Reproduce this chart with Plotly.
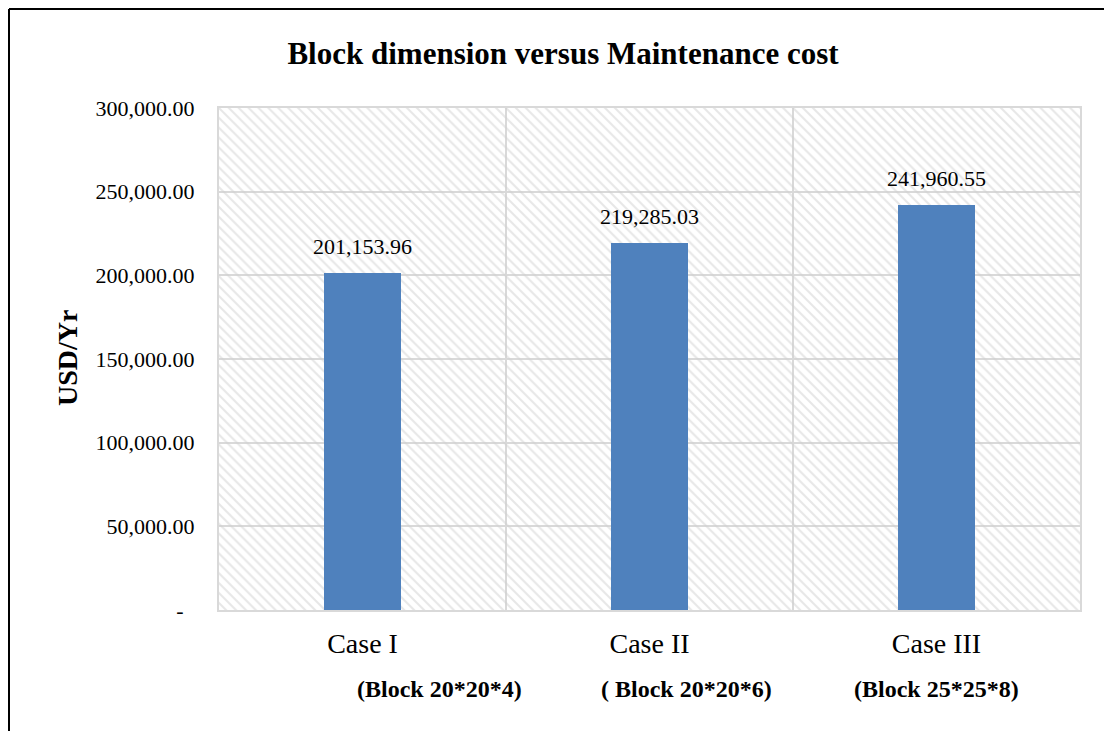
import plotly.graph_objects as go

categories = ["Case I", "Case II", "Case III"]
costs = [201153.96, 219285.03, 241960.55]
sub_labels = ["(Block 20*20*4)", "( Block 20*20*6)", "(Block 25*25*8)"]
sub_offsets = [0.27, 0.13, 0.0]
y_ticks = [0, 50000, 100000, 150000, 200000, 250000, 300000]
y_ticktext = ["-\u00a0\u00a0" if v == 0 else f"{v:,.2f}" for v in y_ticks]
y_max = 300000

SERIF = "Liberation Serif, Times New Roman, serif"
W, H = 1104, 731
L, R, T, B = 219, 24, 108, 121
pw, ph = W - L - R, H - T - B

fig = go.Figure()

# hatched background of the plot area
fig.add_trace(go.Bar(
    x=[categories[1]], y=[y_max], width=[len(categories)],
    marker=dict(color="rgba(0,0,0,0)", line=dict(width=0),
                pattern=dict(shape="\\", size=7, solidity=0.3,
                             fgcolor="#d0d0d0", bgcolor="rgba(0,0,0,0)",
                             fillmode="overlay")),
    hoverinfo="skip", showlegend=False))

fig.add_trace(go.Bar(
    x=categories, y=costs, width=0.27,
    marker=dict(color="#4F81BD", line=dict(width=0)),
    showlegend=False))

for c, v in zip(categories, costs):
    fig.add_annotation(x=c, y=v, text=f"{v:,.2f}", showarrow=False,
                       yanchor="bottom", yshift=12,
                       font=dict(family=SERIF, size=22, color="black"))

for i, (s, off) in enumerate(zip(sub_labels, sub_offsets)):
    fig.add_annotation(x=i + off, y=(T + ph - 689) / ph, xref="x", yref="paper",
                       text=f"<b>{s}</b>", showarrow=False, yanchor="middle",
                       xanchor="center",
                       font=dict(family=SERIF, size=24, color="black"))

fig.add_annotation(x=(67 - L) / pw, y=(T + ph - 358) / ph, xref="paper", yref="paper",
                   text="<b>USD/Yr</b>", textangle=-90, showarrow=False,
                   xanchor="center", yanchor="middle",
                   font=dict(family=SERIF, size=28, color="black"))

# outer frame (top and left edges)
fx0 = (9 - L) / pw
fy0 = (T + ph - 9) / ph
fig.add_shape(type="line", xref="paper", yref="paper", x0=fx0, x1=(W + 5 - L) / pw,
              y0=fy0, y1=fy0, line=dict(color="black", width=2))
fig.add_shape(type="line", xref="paper", yref="paper", x0=fx0, x1=fx0,
              y0=fy0, y1=(T + ph - H - 5) / ph, line=dict(color="black", width=2))

fig.update_layout(
    width=W, height=H,
    margin=dict(l=L, r=R, t=T, b=B),
    paper_bgcolor="white", plot_bgcolor="white",
    barmode="overlay", bargap=0,
    title=dict(text="<b>Block dimension versus Maintenance cost</b>",
               x=563 / W, y=1 - 53 / H, xref="container", yref="container",
               xanchor="center", yanchor="middle",
               font=dict(family=SERIF, size=31, color="black")),
    xaxis=dict(type="category", categoryorder="array", categoryarray=categories,
               tickson="boundaries", showgrid=True, gridcolor="#d9d9d9", gridwidth=2,
               showline=True, linecolor="#d9d9d9", linewidth=2, mirror=True,
               ticks="", ticklabelstandoff=7, range=[-0.5, 2.5],
               tickfont=dict(family=SERIF, size=28, color="black")),
    yaxis=dict(range=[0, y_max], tickvals=y_ticks, ticktext=y_ticktext,
               showgrid=True, gridcolor="#d9d9d9", gridwidth=2,
               showline=True, linecolor="#d9d9d9", linewidth=2, mirror=True,
               zeroline=False, ticks="", ticklabelstandoff=18,
               tickfont=dict(family=SERIF, size=22, color="black")),
)

fig.write_html("out.html")
